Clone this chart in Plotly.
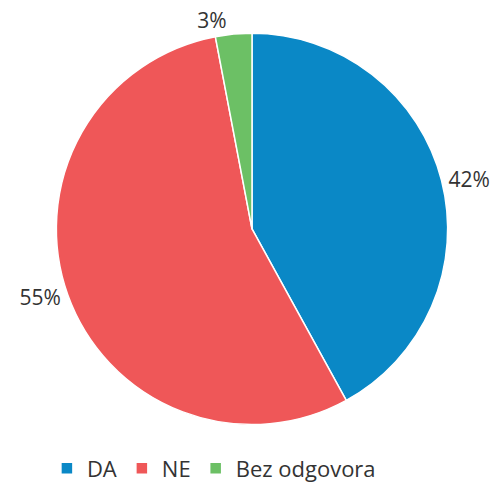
import plotly.graph_objects as go

labels = ["DA", "NE", "Bez odgovora"]
values = [42, 55, 3]
colors = ["#0a88c6", "#ef5758", "#6cc065"]

W, H = 501, 482
fig = go.Figure(go.Pie(
    labels=labels,
    values=values,
    marker=dict(colors=colors, line=dict(color="white", width=1.5)),
    sort=False,
    direction="clockwise",
    rotation=0,
    textposition="outside",
    texttemplate="%{percent:.0%}",
    textfont=dict(family="Open Sans", size=21, color="#333333"),
    showlegend=True,
    domain=dict(x=[42.5 / W, 445.5 / W], y=[53 / H, 456 / H]),
    automargin=False,
))
fig.update_layout(
    width=W, height=H,
    margin=dict(l=0, r=0, t=0, b=0),
    paper_bgcolor="white",
    font=dict(family="Open Sans", size=21, color="#333333"),
    legend=dict(orientation="h", x=0.411, xanchor="center", y=0.016, yanchor="middle",
                font=dict(size=22, color="#333333"), itemwidth=30),
)
fig.write_html("out.html")
